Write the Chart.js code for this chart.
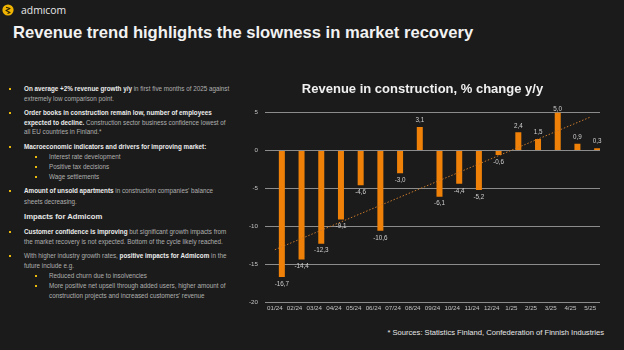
<!DOCTYPE html>
<html>
<head>
<meta charset="utf-8">
<script src="https://cdn.jsdelivr.net/npm/chart.js@4.4.0/dist/chart.umd.min.js"></script>
<style>
  html, body { margin: 0; padding: 0; }
  body { width: 624px; height: 350px; background: #1b1b1b; position: relative; overflow: hidden;
         font-family: "Liberation Sans", Arial, sans-serif; color: #b5b5b5; }
  .abs { position: absolute; white-space: nowrap; }
  #brand { left: 21px; top: 1.5px; font-family: "Open Sans", sans-serif; font-size: 10.4px; line-height: 16px; color: #e8e8e8; }
  #title { left: 13px; top: 23px; font-size: 16.6px; font-weight: bold; line-height: 20px; color: #f2f2f2; }
  .ln { position: absolute; left: 24px; font-size: 6.3px; line-height: 10px; white-space: nowrap; color: #b0b0b0; }
  .ln b { color: #ececec; }
  .ln.sub { left: 49px; }
  .ln.head { font-size: 7.7px; font-weight: bold; color: #e6e6e6; }
  .bul { position: absolute; width: 2.4px; height: 2.4px; background: #e8b90c; }
  #chartBox { position: absolute; left: 245px; top: 70px; width: 357px; height: 250px; }
  #src { right: 20px; top: 328px; font-size: 7.6px; line-height: 10px; color: #e6e6e6; }
</style>
</head>
<body>
<svg class="abs" style="left:2px;top:4px" width="12" height="12" viewBox="0 0 12 12">
  <circle cx="6" cy="6" r="5.6" fill="#f0b400"/>
  <polyline points="4,3.3 8,4.6 4,6.6 8,8.6 5.5,9.4" fill="none" stroke="#2a2100" stroke-width="1.1" stroke-linejoin="round"/>
</svg>
<div id="brand" class="abs">admıcom</div>
<div id="title" class="abs">Revenue trend highlights the slowness in market recovery</div>

<div class="bul" style="left:8.5px;top:88px"></div>
<div class="ln" style="top:84px"><b>On average +2% revenue growth y/y</b> in first five months of 2025 against</div>
<div class="ln" style="top:94px">extremely low comparison point.</div>

<div class="bul" style="left:8.5px;top:112px"></div>
<div class="ln" style="top:108px"><b>Order books in construction remain low, number of employees</b></div>
<div class="ln" style="top:118px"><b>expected to decline.</b> Construction sector business confidence lowest of</div>
<div class="ln" style="top:127px">all EU countries in Finland.*</div>

<div class="bul" style="left:8.5px;top:146px"></div>
<div class="ln" style="top:142px"><b>Macroeconomic indicators and drivers for improving market:</b></div>
<div class="bul" style="left:35px;top:156px"></div>
<div class="ln sub" style="top:152px">Interest rate development</div>
<div class="bul" style="left:35px;top:166px"></div>
<div class="ln sub" style="top:162px">Positive tax decisions</div>
<div class="bul" style="left:35px;top:175.5px"></div>
<div class="ln sub" style="top:171.7px">Wage settlements</div>

<div class="bul" style="left:8.5px;top:190px"></div>
<div class="ln" style="top:186.3px"><b>Amount of unsold apartments</b> in construction companies' balance</div>
<div class="ln" style="top:196.7px">sheets decreasing.</div>

<div class="ln head" style="top:211.7px">Impacts for Admicom</div>

<div class="bul" style="left:8.5px;top:231px"></div>
<div class="ln" style="top:227.3px"><b>Customer confidence is improving</b> but significant growth impacts from</div>
<div class="ln" style="top:237px">the market recovery is not expected. Bottom of the cycle likely reached.</div>

<div class="bul" style="left:8.5px;top:254.5px"></div>
<div class="ln" style="top:250.7px">With higher industry growth rates, <b>positive impacts for Admicom</b> in the</div>
<div class="ln" style="top:260.7px">future include e.g.</div>
<div class="bul" style="left:35px;top:275px"></div>
<div class="ln sub" style="top:271px">Reduced churn due to insolvencies</div>
<div class="bul" style="left:35px;top:285px"></div>
<div class="ln sub" style="top:281.3px">More positive net upsell through added users, higher amount of</div>
<div class="ln sub" style="top:291.3px">construction projects and increased customers' revenue</div>

<div id="chartBox"><canvas id="revenue" width="357" height="250"></canvas></div>
<div id="src" class="abs">* Sources: Statistics Finland, Confederation of Finnish Industries</div>

<script>
var months = ['01/24', '02/24', '03/24', '04/24', '05/24', '06/24', '07/24', '08/24', '09/24',
	'10/24', '11/24', '12/24', '1/25', '2/25', '3/25', '4/25', '5/25'];
var revenueChange = [-16.7, -14.4, -12.3, -9.1, -4.6, -10.6, -3.0, 3.1, -6.1,
	-4.4, -5.2, -0.6, 2.4, 1.5, 5.0, 0.9, 0.3];
// trend line read at its two ends (first and last month)
var trendEnds = [-13.1, 4.4];
var yTicks = [5, 0, -5, -10, -15, -20];

var fontFamily = '"Liberation Sans", Arial, sans-serif';

var trendData = months.map(function(m, i) {
	if (i === 0) return trendEnds[0];
	if (i === months.length - 1) return trendEnds[1];
	return null;
});

var barLabels = {
	id: 'barLabels',
	afterDatasetsDraw: function(chart) {
		var meta = chart.getDatasetMeta(1);
		var ctx = chart.ctx;
		ctx.save();
		ctx.font = '6.3px ' + fontFamily;
		ctx.fillStyle = '#cfcfcf';
		ctx.textAlign = 'center';
		ctx.textBaseline = 'middle';
		meta.data.forEach(function(bar, i) {
			var v = revenueChange[i];
			var y = v < 0 ? bar.y + 7 : bar.y - 6.5;
			y = Math.max(y, chart.chartArea.top - 3);
			ctx.fillText(v.toFixed(1).replace('.', ','), bar.x, y);
		});
		ctx.restore();
	}
};

window.onload = function() {
	var ctx = document.getElementById('revenue').getContext('2d');
	window.revenueChart = new Chart(ctx, {
		type: 'bar',
		data: {
			labels: months,
			datasets: [{
				// empty series, keeps the bars off-centre like the original clustered chart
				label: '',
				data: []
			}, {
				label: 'Revenue in construction',
				data: revenueChange,
				backgroundColor: '#ef8108',
				borderWidth: 0
			}, {
				type: 'line',
				label: 'Trend',
				data: trendData,
				spanGaps: true,
				borderColor: '#c97a2c',
				borderWidth: 1,
				borderDash: [1.5, 1.8],
				pointRadius: 0,
				order: -1
			}]
		},
		options: {
			responsive: false,
			animation: false,
			layout: { padding: { left: 0, right: 2, top: 0, bottom: 4 } },
			datasets: {
				bar: { categoryPercentage: 1.42, barPercentage: 1, maxBarThickness: 6 }
			},
			plugins: {
				legend: { display: false },
				tooltip: { enabled: false },
				title: {
					display: true,
					text: 'Revenue in construction, % change y/y',
					color: '#f0f0f0',
					font: { family: fontFamily, size: 13, weight: 'bold' },
					padding: { top: 12, bottom: 15 }
				}
			},
			scales: {
				x: {
					grid: { display: false, drawTicks: false },
					border: { display: false },
					ticks: {
						color: '#c2c2c2',
						font: { family: fontFamily, size: 6.2 },
						padding: 3,
						maxRotation: 0,
						autoSkip: false
					},
					afterFit: function(scale) { scale.height = 14; }
				},
				y: {
					min: Math.min.apply(null, yTicks),
					max: Math.max.apply(null, yTicks),
					grid: { color: '#8c8c8c', lineWidth: 1, drawTicks: false },
					border: { display: false },
					ticks: {
						stepSize: 5,
						color: '#c2c2c2',
						font: { family: fontFamily, size: 6.2 },
						padding: 7
					},
					afterFit: function(scale) { scale.width = 20; }
				}
			}
		},
		plugins: [barLabels]
	});
};
</script>
</body>
</html>
